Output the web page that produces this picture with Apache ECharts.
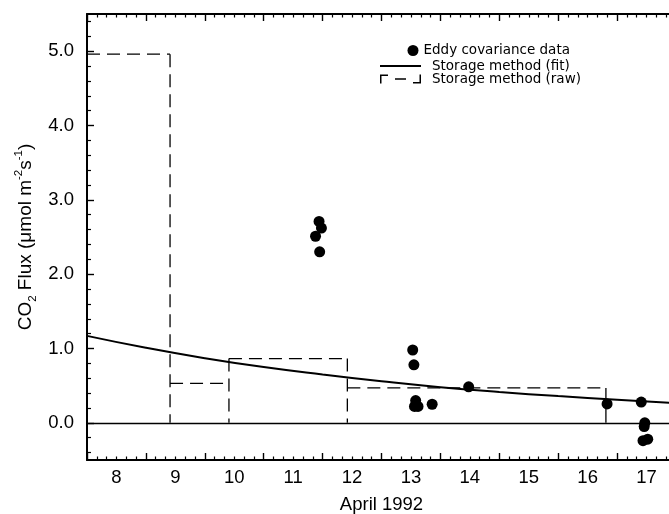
<!DOCTYPE html>
<html>
<head>
<meta charset="utf-8">
<script src="https://cdn.jsdelivr.net/npm/echarts@6/dist/echarts.min.js"></script>
<style>
html,body{margin:0;padding:0;background:#fff;}
#c{width:669px;height:514px;}
</style>
</head>
<body>
<div id="c"></div>
<script>
// ---- data ----
const xTickLabels = ['8','9','10','11','12','13','14','15','16','17'];
const yTickLabels = ['0.0','1.0','2.0','3.0','4.0','5.0'];

const eddyX = [11.94, 11.98, 11.88, 11.95, 13.53, 13.55, 13.58, 13.56, 13.62, 13.86, 14.48, 16.83, 17.41, 17.47, 17.46, 17.44, 17.52];
const eddyY = [2.71, 2.62, 2.51, 2.30, 0.98, 0.78, 0.30, 0.22, 0.22, 0.25, 0.485, 0.255, 0.28, 0.00, -0.05, -0.24, -0.22];

const fitX = [8.0, 9.0, 10.0, 11.0, 12.0, 13.0, 14.0, 15.0, 16.0, 17.0, 18.0];
const fitY = [1.17, 1.01, 0.87, 0.75, 0.65, 0.56, 0.48, 0.415, 0.36, 0.31, 0.265];

const rawEdges = [8.0, 9.41, 10.41, 12.42, 16.81];
const rawValues = [4.96, 0.53, 0.865, 0.47];

// ---- chart ----
const FONT = 'Liberation Sans, Arial, Helvetica, sans-serif';
const LEGEND_FONT = 'DejaVu Sans, Liberation Sans, sans-serif';
const BLACK = '#000';

const xLabelPos = xTickLabels.map(l => Number(l) + 0.5);
const yLabelPos = yTickLabels.map(l => Number(l));
const yMinorPos = [];
for (let k = -2; k <= 27; k++) { if (k % 5 !== 0) yMinorPos.push(k / 5); }

const rawSeries = [];
for (let i = 0; i < rawValues.length; i++) {
  const x0 = rawEdges[i], x1 = rawEdges[i + 1], v = rawValues[i];
  const next = i + 1 < rawValues.length ? rawValues[i + 1] : 0;
  const last = i === rawValues.length - 1;
  rawSeries.push({
    name: 'Storage method (raw)', type: 'line', showSymbol: false, symbol: 'none',
    data: [[x0, v], [x1, v]], color: BLACK,
    lineStyle: {color: BLACK, width: 1.3, type: [13, 7]}, silent: true, z: 3
  });
  rawSeries.push({
    name: 'Storage method (raw)', type: 'line', showSymbol: false, symbol: 'none',
    data: [[x1, Math.max(v, next)], [x1, 0]], color: BLACK,
    lineStyle: {color: BLACK, width: 1.3, type: last ? 'solid' : [13, 7]}, silent: true, z: 3
  });
}

const tickLine = {color: BLACK, width: 1.4};
const legendText = {color: BLACK, fontSize: 13.5, fontFamily: LEGEND_FONT, lineHeight: 13};

const option = {
  animation: false,
  backgroundColor: '#fff',
  textStyle: {fontFamily: FONT, color: BLACK},
  grid: {left: 87, right: -7, top: 14, bottom: 54, containLabel: false, outerBoundsMode: 'none'},
  legend: [
    {data: [{name: 'Eddy covariance data', icon: 'circle'}], left: 407.5, top: 43.5, padding: 0,
     itemWidth: 11, itemHeight: 11, selectedMode: false, textStyle: legendText,
     itemStyle: {borderWidth: 0, opacity: 1}},
    {data: [{name: 'Storage method (fit)', icon: 'path://M0,0H41V2H0Z M47,0L47,2Z'}], left: 380, top: 59, padding: 0,
     itemWidth: 47, itemHeight: 2, selectedMode: false, textStyle: legendText, itemStyle: {borderWidth: 0}},
    {data: [{name: 'Storage method (raw)', icon: 'path://M0,0H8V1.5H1.5V9H0Z M15,3.75H26V5.25H15Z M41,9H33V7.5H39.5V0H41Z M47,0L47,9Z'}],
     left: 380, top: 72, padding: 0,
     itemWidth: 47, itemHeight: 9, selectedMode: false, textStyle: legendText, itemStyle: {borderWidth: 0}}
  ],
  xAxis: [
    {
      type: 'value', min: 8, max: 18, interval: 1, position: 'bottom',
      axisLine: {show: true, onZero: false, lineStyle: {color: BLACK, width: 2}},
      axisTick: {show: true, inside: true, length: 7, lineStyle: tickLine},
      minorTick: {show: true, splitNumber: 6, length: 3.5, lineStyle: {color: BLACK, width: 1.2}},
      axisLabel: {
        customValues: xLabelPos,
        formatter: v => xTickLabels[xLabelPos.findIndex(p => Math.abs(p - v) < 1e-6)] || '',
        fontSize: 18.5, color: BLACK, fontFamily: FONT, margin: 8
      },
      splitLine: {show: false},
      name: 'April 1992', nameLocation: 'middle', nameGap: 35,
      nameTextStyle: {fontSize: 18.5, color: BLACK, fontFamily: FONT}
    },
    {
      type: 'value', min: 8, max: 18, interval: 1, position: 'top',
      axisLine: {show: true, onZero: false, lineStyle: {color: BLACK, width: 2}},
      axisTick: {show: true, inside: true, length: 7, lineStyle: tickLine},
      minorTick: {show: true, splitNumber: 6, length: 3.5, lineStyle: {color: BLACK, width: 1.2}},
      axisLabel: {show: false}, splitLine: {show: false}
    }
  ],
  yAxis: [
    {
      type: 'value', min: -0.5, max: 5.5, position: 'left',
      axisLine: {show: true, onZero: false, lineStyle: {color: BLACK, width: 2}},
      axisTick: {show: true, inside: true, length: 7, lineStyle: tickLine, customValues: yLabelPos},
      axisLabel: {
        customValues: yLabelPos,
        formatter: v => yTickLabels[yLabelPos.findIndex(p => Math.abs(p - v) < 1e-6)] || '',
        fontSize: 18.5, color: BLACK, fontFamily: FONT, margin: 13
      },
      splitLine: {show: false},
      name: '{a|CO}{b|2}{a| Flux (μmol m}{c|-2}{a|s}{c|-1}{a|)}',
      nameLocation: 'middle', nameGap: 48, nameRotate: 90, nameMoveOverlap: false,
      nameTextStyle: {
        color: BLACK, fontFamily: FONT,
        rich: {
          a: {fontSize: 19, lineHeight: 26, color: BLACK, fontFamily: FONT, verticalAlign: 'middle'},
          b: {fontSize: 11.5, lineHeight: 11, color: BLACK, fontFamily: FONT, verticalAlign: 'bottom'},
          c: {fontSize: 11.5, lineHeight: 11, color: BLACK, fontFamily: FONT, verticalAlign: 'top'}
        }
      }
    },
    {
      type: 'value', min: -0.5, max: 5.5, position: 'left', offset: 0,
      axisLine: {show: false, onZero: false},
      axisTick: {show: true, inside: true, length: 4, lineStyle: {color: BLACK, width: 1.2}, customValues: yMinorPos},
      axisLabel: {show: false}, splitLine: {show: false}
    }
  ],
  series: [
    {
      name: 'Storage method (fit)', type: 'line', smooth: true,
      showSymbol: false, symbol: 'none', color: BLACK,
      data: fitX.map((x, i) => [x, fitY[i]]),
      lineStyle: {color: BLACK, width: 2}, silent: true, z: 4,
      markLine: {
        silent: true, symbol: ['none', 'none'], label: {show: false},
        lineStyle: {color: BLACK, width: 1.3, type: 'solid'},
        data: [{yAxis: 0}]
      }
    },
    ...rawSeries,
    {
      name: 'Eddy covariance data', type: 'scatter', symbol: 'circle', symbolSize: 11,
      color: BLACK, itemStyle: {color: BLACK, opacity: 1},
      data: eddyX.map((x, i) => [x, eddyY[i]]), z: 5, silent: true
    }
  ]
};

const chart = echarts.init(document.getElementById('c'), null, {renderer: 'canvas'});
chart.setOption(option);
</script>
</body>
</html>
